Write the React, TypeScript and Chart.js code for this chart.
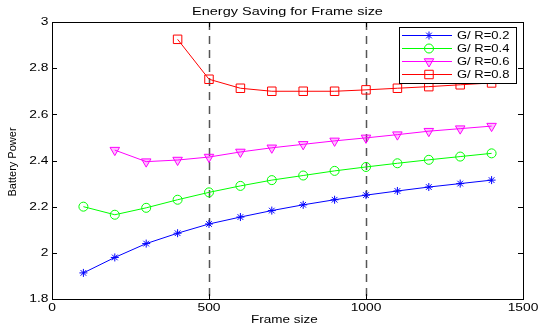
import React, { useEffect, useRef } from "react";
import { Chart, registerables } from "chart.js";

Chart.register(...registerables);

const frameSizes = [100, 200, 300, 400, 500, 600, 700, 800, 900, 1000, 1100, 1200, 1300, 1400];
const gr02 = [1.913, 1.98, 2.04, 2.085, 2.125, 2.155, 2.183, 2.208, 2.23, 2.25, 2.268, 2.285, 2.3, 2.315];
const gr04 = [2.2, 2.165, 2.195, 2.23, 2.262, 2.29, 2.315, 2.335, 2.355, 2.372, 2.388, 2.403, 2.417, 2.431];
const gr06 = [null, 2.445, 2.395, 2.402, 2.415, 2.437, 2.455, 2.47, 2.485, 2.498, 2.512, 2.527, 2.538, 2.549];
const gr08 = [null, null, null, 2.925, 2.752, 2.713, 2.7, 2.7, 2.7, 2.706, 2.713, 2.72, 2.728, 2.736];

const seriesLabels = ["G/ R=0.2", "G/ R=0.4", "G/ R=0.6", "G/ R=0.8"];
const seriesColors = ["#0000ff", "#00ff00", "#ff00ff", "#ff0000"];
const seriesMarkers = ["star", "circle", "triangleDown", "rect"];

const xTickValues = [0, 500, 1000, 1500];
const yTickValues = [1.8, 2, 2.2, 2.4, 2.6, 2.8, 3];
const dividerFrames = [500, 1000];

const chartTitle = "Energy Saving for Frame size";
const xTitle = "Frame size";
const yTitle = "Battery Power";

const FONT = "'Liberation Sans', Arial, sans-serif";
const SX = 1.38;

function fmt(v: number) {
  return String(Number(v.toFixed(1)));
}

function toPoints(vals: (number | null)[]) {
  const pts: { x: number; y: number }[] = [];
  vals.forEach((v, i) => {
    if (v !== null) pts.push({ x: frameSizes[i], y: v });
  });
  return pts;
}

function markerRadius(m: string) {
  if (m === "star") return 4;
  if (m === "circle") return 4.5;
  if (m === "triangleDown") return 5.5;
  return 6;
}

function stretchedText(ctx: CanvasRenderingContext2D, text: string, x: number, y: number, align: CanvasTextAlign, size: number, sx: number) {
  ctx.save();
  ctx.font = `${size}px ${FONT}`;
  ctx.textAlign = align;
  ctx.textBaseline = "middle";
  ctx.fillStyle = "#000";
  ctx.translate(x, y);
  ctx.scale(sx, 1);
  ctx.fillText(text, 0, 0);
  ctx.restore();
}

function drawMarker(ctx: CanvasRenderingContext2D, m: string, x: number, y: number, color: string) {
  const r = markerRadius(m);
  ctx.save();
  ctx.strokeStyle = color;
  ctx.lineWidth = 1;
  ctx.beginPath();
  if (m === "star") {
    for (let k = 0; k < 4; k++) {
      const a = (k * Math.PI) / 4;
      ctx.moveTo(x - r * Math.cos(a), y - r * Math.sin(a));
      ctx.lineTo(x + r * Math.cos(a), y + r * Math.sin(a));
    }
    ctx.stroke();
  } else if (m === "circle") {
    ctx.arc(x, y, r, 0, Math.PI * 2);
    ctx.stroke();
  } else if (m === "triangleDown") {
    ctx.moveTo(x, y + r);
    ctx.lineTo(x - r * 0.866, y - r / 2);
    ctx.lineTo(x + r * 0.866, y - r / 2);
    ctx.closePath();
    ctx.fillStyle = "rgba(255,0,255,0.25)";
    ctx.fill();
    ctx.stroke();
  } else {
    const s = r * Math.SQRT1_2;
    ctx.rect(x - s, y - s, 2 * s, 2 * s);
    ctx.stroke();
  }
  ctx.restore();
}

const matlabPlugin = {
  id: "matlabStyle",
  beforeDatasetsDraw(chart: any) {
    const { ctx, chartArea, scales } = chart;
    ctx.save();
    ctx.strokeStyle = "#555555";
    ctx.lineWidth = 1.5;
    ctx.setLineDash([8, 6]);
    dividerFrames.forEach((f) => {
      const px = Math.round(scales.x.getPixelForValue(f)) + 0.5;
      ctx.beginPath();
      ctx.moveTo(px, chartArea.top);
      ctx.lineTo(px, chartArea.bottom);
      ctx.stroke();
    });
    ctx.restore();
  },
  afterDraw(chart: any) {
    const { ctx, chartArea, scales } = chart;
    const { left, right, top, bottom } = chartArea;
    ctx.save();
    // box
    ctx.strokeStyle = "#000";
    ctx.lineWidth = 1;
    ctx.setLineDash([]);
    ctx.strokeRect(Math.round(left) + 0.5, Math.round(top) + 0.5, Math.round(right - left), Math.round(bottom - top));
    // inward ticks
    const tl = 5;
    ctx.beginPath();
    xTickValues.forEach((v) => {
      const px = Math.round(scales.x.getPixelForValue(v)) + 0.5;
      ctx.moveTo(px, bottom);
      ctx.lineTo(px, bottom - tl);
      ctx.moveTo(px, top);
      ctx.lineTo(px, top + tl);
    });
    yTickValues.forEach((v) => {
      const py = Math.round(scales.y.getPixelForValue(v)) + 0.5;
      ctx.moveTo(left, py);
      ctx.lineTo(left + tl, py);
      ctx.moveTo(right, py);
      ctx.lineTo(right - tl, py);
    });
    ctx.stroke();

    // tick labels
    xTickValues.forEach((v) => {
      stretchedText(ctx, fmt(v), scales.x.getPixelForValue(v), bottom + 9.5, "center", 10, SX);
    });
    yTickValues.forEach((v) => {
      stretchedText(ctx, fmt(v), left - 3.5, scales.y.getPixelForValue(v) + 0.5, "right", 10, SX);
    });

    // titles
    const cx = (left + right) / 2;
    stretchedText(ctx, chartTitle, cx, 12.5, "center", 10.5, SX);
    stretchedText(ctx, xTitle, cx - 3, 320, "center", 10, SX - 0.03);
    ctx.save();
    ctx.translate(13, 162);
    ctx.rotate(-Math.PI / 2);
    ctx.font = `11px ${FONT}`;
    ctx.textAlign = "center";
    ctx.textBaseline = "middle";
    ctx.fillStyle = "#000";
    ctx.fillText(yTitle, 0, 0);
    ctx.restore();

    // legend
    const lx = 399.5, ly = 27.5, lw = 117, lh = 56;
    ctx.fillStyle = "#fff";
    ctx.fillRect(lx, ly, lw, lh);
    ctx.strokeStyle = "#000";
    ctx.lineWidth = 1;
    ctx.strokeRect(lx, ly, lw, lh);
    seriesLabels.forEach((lab, i) => {
      const y = 35.5 + i * 13;
      ctx.strokeStyle = seriesColors[i];
      ctx.lineWidth = 1;
      ctx.beginPath();
      ctx.moveTo(402, y);
      ctx.lineTo(452, y);
      ctx.stroke();
      drawMarker(ctx, seriesMarkers[i], 429, y, seriesColors[i]);
      stretchedText(ctx, lab, 457, y + 0.5, "left", 10, 1.3);
    });
    ctx.restore();
  },
};

export default function App() {
  const ref = useRef<HTMLCanvasElement | null>(null);
  useEffect(() => {
    if (!ref.current) return;
    const allVals = [gr02, gr04, gr06, gr08];
    const chart = new Chart(ref.current, {
      type: "line",
      data: {
        datasets: allVals.map((vals, i) => {
          const m = seriesMarkers[i];
          return {
            label: seriesLabels[i],
            data: toPoints(vals),
            borderColor: seriesColors[i],
            borderWidth: 1,
            pointStyle: m === "triangleDown" ? "triangle" : m,
            rotation: m === "triangleDown" ? 180 : 0,
            pointRadius: markerRadius(m),
            pointBorderColor: seriesColors[i],
            pointBackgroundColor: m === "triangleDown" ? "rgba(255,0,255,0.25)" : "rgba(0,0,0,0)",
            pointBorderWidth: 1,
            tension: 0,
            fill: false,
          } as any;
        }),
      },
      options: {
        animation: false,
        responsive: false,
        layout: { padding: { top: 22, right: 16, left: 0, bottom: 0 } },
        plugins: { legend: { display: false }, title: { display: false }, tooltip: { enabled: false } },
        scales: {
          x: {
            type: "linear",
            min: 0,
            max: 1500,
            afterFit: (s: any) => { s.height = 30; },
            afterBuildTicks: (s: any) => { s.ticks = xTickValues.map((v) => ({ value: v })); },
            grid: { display: false, drawTicks: false },
            border: { display: false },
            ticks: { display: false },
          },
          y: {
            type: "linear",
            min: 1.8,
            max: 3,
            afterFit: (s: any) => { s.width = 52; },
            afterBuildTicks: (s: any) => { s.ticks = yTickValues.map((v) => ({ value: v })); },
            grid: { display: false, drawTicks: false },
            border: { display: false },
            ticks: { display: false },
          },
        },
      },
      plugins: [matlabPlugin],
    });
    return () => chart.destroy();
  }, []);
  return (
    <div style={{ position: "absolute", left: 0, top: 0, width: 539, height: 329, background: "#fff" }}>
      <canvas ref={ref} width={539} height={329} style={{ width: 539, height: 329, display: "block" }} />
    </div>
  );
}
